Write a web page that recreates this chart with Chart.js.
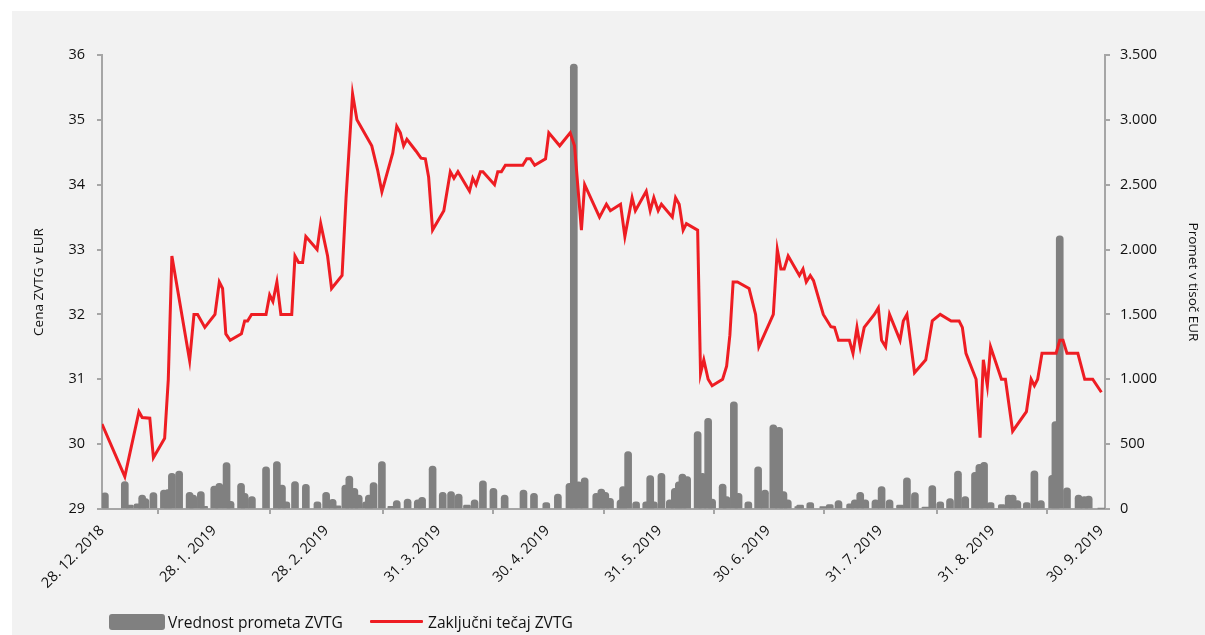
<!DOCTYPE html>
<html>
<head>
<meta charset="utf-8">
<script src="https://cdn.jsdelivr.net/npm/chart.js@4.4.1/dist/chart.umd.min.js"></script>
<style>
  body { margin: 0; background: #fff; width: 1205px; height: 635px; overflow: hidden; font-family: "Open Sans", sans-serif; }
  #panel { position: absolute; left: 12px; top: 11px; width: 1193px; height: 624px; background: #f2f2f2; }
  #wrap { position: absolute; left: 0; top: 0; width: 1193px; height: 624px; }
  .lg { position: absolute; font-size: 15.6px; color: #111; line-height: 18px; }
  .box { position: absolute; background: #808080; border-radius: 3px; }
</style>
</head>
<body>
<div id="panel">
  <div id="wrap"><canvas id="chart"></canvas></div>
  <div class="box" style="left:97px;top:603px;width:56px;height:16px"></div>
  <div class="lg" style="left:156px;top:602px">Vrednost prometa ZVTG</div>
  <div class="box" style="left:358px;top:609px;width:53px;height:3px;background:#ee1d23;border-radius:1px"></div>
  <div class="lg" style="left:416px;top:602px">Zaključni tečaj ZVTG</div>
</div>
<script>
// days since 28. 12. 2018
const tickDays = [0, 31, 62, 93, 123, 154, 184, 215, 246, 276]
const tickLabels = ['28. 12. 2018', '28. 1. 2019', '28. 2. 2019', '31. 3. 2019', '30. 4. 2019',
  '31. 5. 2019', '30. 6. 2019', '31. 7. 2019', '31. 8. 2019', '30. 9. 2019']

// closing price (EUR)
const priceDays = [0, 6.3, 10.2, 11.1, 13.2, 14.2, 17.3, 18.3, 19.3, 24.2, 25.4, 26.4, 28.4, 31.2, 32.4, 33.3,
  34.2, 35.4, 38.5, 39.4, 40.2, 41.3, 45.3, 46.3, 47.2, 48.3, 49.4, 52.4, 53.3, 54.3, 55.4, 56.3, 59.4, 60.4,
  62.3, 63.4, 66.3, 67.4, 69.2, 70.4, 74.5, 76.1, 77.3, 80.3, 81.4, 82.4, 83.3, 84.2, 86.7, 88.1, 89.3, 90.2,
  91.3, 94.4, 96.2, 97.2, 98.3, 101.5, 102.4, 103.3, 104.5, 105.2, 108.4, 109.3, 110.3, 111.4, 116.2, 117.3,
  118.3, 119.5, 122.5, 123.4, 126.4, 129.3, 130.5, 132.4, 133.3, 137.4, 139.3, 140.4, 143.2, 144.4, 146.4,
  147.3, 150.3, 151.4, 152.4, 153.6, 154.5, 157.5, 158.4, 159.4, 160.5, 161.4, 164.5, 165.3, 166.2, 167.4,
  168.5, 171.4, 172.5, 173.4, 174.3, 175.5, 178.7, 180.5, 181.4, 185.4, 186.5, 187.5, 188.4, 189.5, 192.6,
  193.6, 194.5, 195.6, 196.5, 199.2, 201.3, 202.3, 203.4, 206.4, 207.4, 208.5, 209.4, 210.5, 213.3, 214.4,
  215.3, 216.4, 217.5, 220.4, 221.3, 222.3, 224.4, 227.5, 229.3, 231.5, 234.5, 236.7, 237.6, 238.6, 241.4,
  242.5, 243.4, 244.5, 245.4, 248.4, 249.5, 251.5, 255.3, 256.6, 257.5, 258.4, 259.6, 263.5, 264.5, 265.4,
  266.5, 269.5, 271.4, 273.6, 276]
const priceValues = [30.31, 29.5, 30.5, 30.41, 30.4, 29.79, 30.09, 30.99, 32.9, 31.29, 32.0, 32.0, 31.8, 32.0,
  32.5, 32.4, 31.7, 31.6, 31.7, 31.9, 31.9, 32.0, 32.0, 32.3, 32.2, 32.5, 32.0, 32.0, 32.9, 32.8, 32.8, 33.2,
  33.0, 33.4, 32.9, 32.4, 32.6, 33.8, 35.4, 35.0, 34.6, 34.23, 33.89, 34.49, 34.9, 34.8, 34.6, 34.7, 34.52,
  34.41, 34.4, 34.12, 33.3, 33.6, 34.2, 34.1, 34.2, 33.9, 34.1, 34.0, 34.2, 34.2, 34.0, 34.2, 34.2, 34.3,
  34.3, 34.4, 34.4, 34.3, 34.4, 34.8, 34.6, 34.8, 34.6, 33.3, 34.0, 33.5, 33.7, 33.6, 33.7, 33.2, 33.8, 33.6,
  33.9, 33.6, 33.8, 33.6, 33.7, 33.5, 33.8, 33.7, 33.3, 33.4, 33.3, 31.09, 31.3, 31.0, 30.9, 31.0, 31.2,
  31.68, 32.5, 32.5, 32.4, 32.0, 31.5, 32.0, 33.0, 32.7, 32.7, 32.9, 32.6, 32.7, 32.5, 32.6, 32.52, 32.0,
  31.81, 31.8, 31.6, 31.6, 31.4, 31.8, 31.5, 31.8, 32.0, 32.1, 31.6, 31.5, 32.0, 31.6, 31.9, 32.0, 31.1,
  31.3, 31.9, 32.0, 31.9, 31.9, 31.8, 31.4, 31.0, 30.1, 31.3, 30.9, 31.5, 31.0, 31.0, 30.2, 30.5, 31.0,
  30.9, 31.0, 31.4, 31.4, 31.6, 31.6, 31.4, 31.4, 31.0, 31.0, 30.8]

// turnover (thousand EUR)
const volDays = [0.8, 6.3, 7.7, 9.8, 11.1, 12, 14.2, 17.1, 18.2, 19.3, 21.3, 24.2, 25.2, 27.3, 28.2, 31, 32.4,
  34.4, 35.5, 38.4, 39.4, 41.4, 45.3, 48.3, 49.7, 50.9, 53.3, 56.3, 59.5, 61.9, 63.7, 65, 67.2, 68.3, 69.7,
  70.9, 72.9, 73.7, 75, 77.3, 79.9, 81.4, 84.4, 87.2, 88.4, 91.3, 94.1, 96.4, 98.5, 100.8, 102.9, 105.2,
  108.1, 111.2, 116.4, 119.3, 122.7, 125.9, 129.1, 130.3, 131.6, 133.3, 136.5, 137.9, 139, 140.3, 143.2,
  143.9, 145.3, 147.5, 150.3, 151.4, 152.4, 154.5, 156.8, 158.2, 159.3, 160.3, 161.6, 164.5, 165.8, 167.4,
  168.5, 171.4, 172.5, 174.5, 175.8, 178.5, 181.2, 183.1, 185.4, 187, 188.2, 189.4, 192.3, 192.8, 195.6,
  199.2, 201, 203.4, 206.6, 207.9, 209.4, 210.8, 213.6, 215.3, 217.5, 220.4, 222.3, 224.5, 227.5, 229.3,
  231.5, 234.2, 236.4, 238.4, 241.1, 242.3, 243.6, 245.4, 248.5, 250.4, 251.5, 252.8, 255.4, 257.5, 259.3,
  262.4, 263.3, 264.5, 266.5, 269.7, 271.3, 272.5, 276]
const volValues = [125, 211, 30, 40, 108, 80, 126, 146, 150, 275, 293, 128, 108, 134, 20, 177, 198, 357, 60,
  198, 120, 95, 326, 365, 185, 55, 211, 190, 55, 128, 75, 25, 185, 254, 160, 108, 55, 108, 203, 365, 20, 65,
  77, 70, 90, 330, 128, 134, 115, 30, 70, 218, 160, 108, 146, 120, 50, 115, 198, 3430, 210, 241, 120, 154,
  128, 82, 70, 172, 442, 56, 55, 257, 55, 275, 70, 160, 210, 270, 250, 596, 275, 699, 77, 193, 95, 827, 121,
  55, 326, 146, 648, 630, 134, 70, 18, 30, 50, 18, 35, 65, 40, 70, 128, 70, 70, 172, 70, 30, 241, 126, 15,
  180, 55, 80, 293, 95, 283, 344, 360, 50, 35, 108, 108, 65, 50, 295, 65, 260, 673, 2105, 164, 108, 95, 100, 5]

const AXIS = '#a6a6a6'
const TEXT = '#111'
const FONT = '"Open Sans", sans-serif'

function thousands(v) {
  return String(v).replace(/\B(?=(\d{3})+(?!\d))/g, '.')
}

new Chart(document.getElementById('chart'), {
  type: 'line',
  data: {
    datasets: [
      {
        type: 'line',
        label: 'Zaključni tečaj ZVTG',
        data: priceDays.map((d, i) => ({ x: d, y: priceValues[i] })),
        borderColor: '#ee1d23',
        borderWidth: 3,
        pointRadius: 0,
        tension: 0,
        yAxisID: 'y',
        order: 0,
      },
      {
        type: 'bar',
        label: 'Vrednost prometa ZVTG',
        data: volDays.map((d, i) => ({ x: d, y: volValues[i] })),
        backgroundColor: '#808080',
        barThickness: 7,
        borderRadius: 3.5,
        borderSkipped: 'start',
        yAxisID: 'y1',
        order: 1,
      },
    ],
  },
  options: {
    responsive: true,
    maintainAspectRatio: false,
    animation: false,
    layout: { padding: { top: 44, left: 0, right: 0, bottom: 0 } },
    plugins: { legend: { display: false }, tooltip: { enabled: false } },
    scales: {
      x: {
        type: 'linear',
        min: 0,
        max: 277,
        offset: false,
        afterBuildTicks: s => { s.ticks = tickDays.map(v => ({ value: v })) },
        afterFit: s => { s.height = 126 },
        grid: { drawOnChartArea: false, drawTicks: true, tickLength: 5, color: AXIS, lineWidth: 2 },
        border: { display: true, color: AXIS, width: 2 },
        ticks: {
          autoSkip: false,
          minRotation: 45,
          maxRotation: 45,
          padding: 8,
          color: TEXT,
          font: { size: 14.5, family: FONT },
          callback: v => tickLabels[tickDays.indexOf(v)],
        },
      },
      y: {
        position: 'left',
        min: 29,
        max: 36,
        afterFit: s => { s.width = 90 },
        grid: { drawOnChartArea: false, drawTicks: true, tickLength: 5, color: AXIS, lineWidth: 2 },
        border: { display: true, color: AXIS, width: 2 },
        ticks: { stepSize: 1, padding: 12, color: TEXT, font: { size: 14.5, family: FONT } },
        title: { display: true, text: 'Cena ZVTG v EUR', color: TEXT, font: { size: 13.5, family: FONT }, padding: { top: 19 } },
      },
      y1: {
        position: 'right',
        min: 0,
        max: 3500,
        afterFit: s => { s.width = 100 },
        grid: { drawOnChartArea: false, drawTicks: true, tickLength: 5, color: AXIS, lineWidth: 2 },
        border: { display: true, color: AXIS, width: 2 },
        ticks: { stepSize: 500, padding: 10, color: TEXT, font: { size: 14.5, family: FONT }, callback: v => thousands(v) },
        title: { display: true, text: 'Promet v tisoč EUR', color: TEXT, font: { size: 13.5, family: FONT }, padding: { top: 4 } },
      },
    },
  },
})
</script>
</body>
</html>
